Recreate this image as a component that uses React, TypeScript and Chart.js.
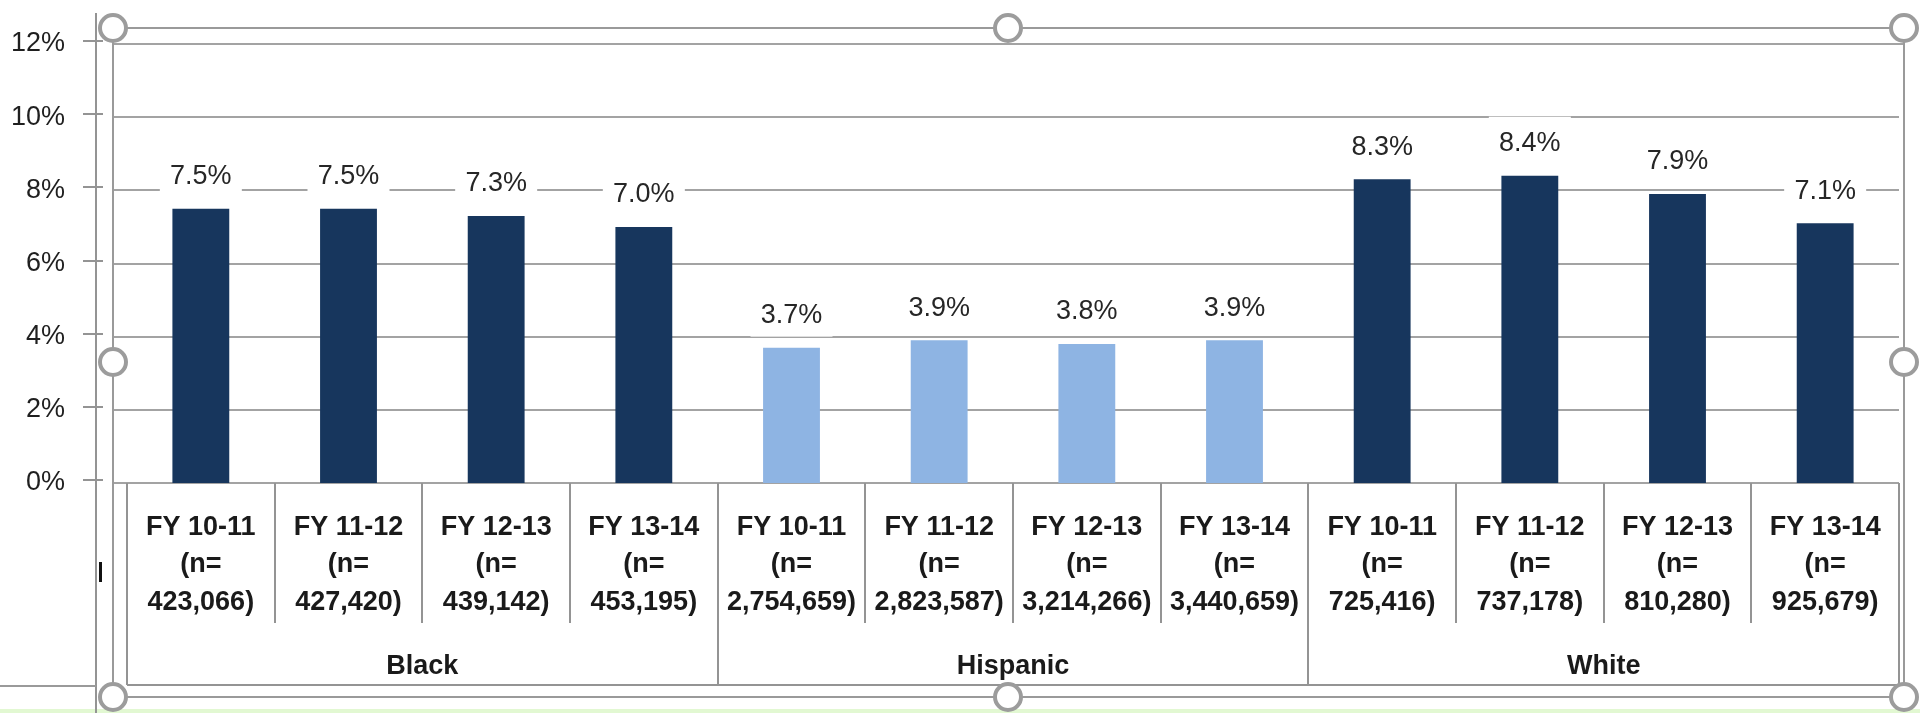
import React, { useEffect, useRef } from 'react';
import { Chart, registerables } from 'chart.js';

Chart.register(...registerables);

// ---- data ----
const fiscalYears = ['FY 10-11', 'FY 11-12', 'FY 12-13', 'FY 13-14'];
const groups = ['Black', 'Hispanic', 'White'];
const sampleSizes = [
  '423,066', '427,420', '439,142', '453,195',
  '2,754,659', '2,823,587', '3,214,266', '3,440,659',
  '725,416', '737,178', '810,280', '925,679',
];
const blackValues = [7.5, 7.5, 7.3, 7.0];
const hispanicValues = [3.7, 3.9, 3.8, 3.9];
const whiteValues = [8.3, 8.4, 7.9, 7.1];
const yMin = 0;
const yMax = 12;
const yStep = 2;

const DARK = '#17365d';
const LIGHT = '#8eb4e3';
const FONT = "'Liberation Sans', Arial, sans-serif";

const allValues = [...blackValues, ...hispanicValues, ...whiteValues];
const labels = sampleSizes.map((n, i) => `${fiscalYears[i % 4]} (n= ${n})`);
const barColors = [
  ...blackValues.map(() => DARK),
  ...hispanicValues.map(() => LIGHT),
  ...whiteValues.map(() => DARK),
];

const decorPlugin = {
  id: 'decor',
  beforeDraw(chart: any) {
    const { ctx, width, height } = chart;
    ctx.save();
    ctx.fillStyle = '#ffffff';
    ctx.fillRect(0, 0, width, height);
    // light green strip at the bottom
    ctx.fillStyle = '#e2f8d2';
    ctx.fillRect(0, 709, width, height - 709);
    ctx.restore();
  },
  beforeDatasetsDraw(chart: any) {
    const { ctx, chartArea } = chart;
    const y = chart.scales.y;
    const x = chart.scales.x;
    const frameL = 113;
    const frameR = 1904;
    ctx.save();
    // gridlines
    ctx.strokeStyle = '#a3a3a3';
    ctx.lineWidth = 2;
    for (let v = yMin; v <= yMax; v += yStep) {
      const py = Math.round(y.getPixelForValue(v));
      ctx.beginPath();
      ctx.moveTo(frameL, py);
      ctx.lineTo(v === yMax ? frameR : chartArea.right, py);
      ctx.stroke();
    }
    // value axis line + tick marks
    ctx.strokeStyle = '#949494';
    ctx.beginPath();
    ctx.moveTo(96, 13);
    ctx.lineTo(96, 713);
    ctx.stroke();
    for (let v = yMin; v <= yMax; v += yStep) {
      const py = Math.round(y.getPixelForValue(v)) - 3;
      ctx.beginPath();
      ctx.moveTo(83, py);
      ctx.lineTo(103, py);
      ctx.stroke();
    }
    // selection frame
    ctx.strokeStyle = '#9a9a9a';
    ctx.beginPath();
    ctx.moveTo(frameL, 28);
    ctx.lineTo(frameR, 28);
    ctx.moveTo(frameL, 28);
    ctx.lineTo(frameL, 697);
    ctx.moveTo(frameR, 28);
    ctx.lineTo(frameR, 697);
    ctx.moveTo(frameL, 697);
    ctx.lineTo(frameR, 697);
    ctx.moveTo(0, 686);
    ctx.lineTo(96, 686);
    ctx.stroke();

    // category label box
    const n = allValues.length;
    const edges: number[] = [chartArea.left];
    for (let i = 0; i < n - 1; i++) {
      edges.push((x.getPixelForValue(i) + x.getPixelForValue(i + 1)) / 2);
    }
    edges.push(chartArea.right);
    ctx.strokeStyle = '#949494';
    ctx.beginPath();
    ctx.moveTo(chartArea.left, 685);
    ctx.lineTo(chartArea.right, 685);
    edges.forEach((ex, i) => {
      const px = Math.round(ex);
      ctx.moveTo(px, chartArea.bottom);
      ctx.lineTo(px, i % 4 === 0 ? 685 : 623);
    });
    ctx.stroke();

    // category labels
    ctx.fillStyle = '#1a1a1a';
    ctx.font = `bold 27px ${FONT}`;
    ctx.textAlign = 'center';
    ctx.textBaseline = 'middle';
    for (let i = 0; i < n; i++) {
      const px = x.getPixelForValue(i);
      ctx.fillText(fiscalYears[i % 4], px, 528);
      ctx.fillText('(n=', px, 565);
      ctx.fillText(`${sampleSizes[i]})`, px, 603);
    }
    groups.forEach((g, gi) => {
      const cx = (edges[gi * 4] + edges[gi * 4 + 4]) / 2;
      ctx.fillText(g, cx, 667);
    });

    // small cursor mark near the axis
    ctx.fillStyle = '#111111';
    ctx.fillRect(99, 562, 3, 20);
    ctx.restore();
  },
  afterDatasetsDraw(chart: any) {
    const { ctx } = chart;
    const y = chart.scales.y;
    const x = chart.scales.x;
    ctx.save();
    ctx.font = `27px ${FONT}`;
    ctx.textAlign = 'center';
    ctx.textBaseline = 'middle';
    allValues.forEach((v, i) => {
      const px = x.getPixelForValue(i);
      const cy = y.getPixelForValue(v) - 32;
      ctx.fillStyle = '#ffffff';
      ctx.fillRect(px - 41, cy - 27, 82, 48);
      ctx.fillStyle = '#262626';
      ctx.fillText(`${v.toFixed(1)}%`, px, cy);
    });
    // selection handles
    const hx = [113, 1008, 1904];
    const hy = [28, 362, 697];
    ctx.lineWidth = 4;
    ctx.strokeStyle = '#9c9c9c';
    ctx.fillStyle = '#ffffff';
    hx.forEach((cx, xi) => {
      hy.forEach((cy, yi) => {
        if (xi === 1 && yi === 1) return;
        ctx.beginPath();
        ctx.arc(cx, cy, 13, 0, Math.PI * 2);
        ctx.fill();
        ctx.stroke();
      });
    });
    ctx.restore();
  },
};

export default function App() {
  const ref = useRef<HTMLCanvasElement>(null);
  useEffect(() => {
    if (!ref.current) return;
    const chart = new Chart(ref.current, {
      type: 'bar',
      data: {
        labels,
        datasets: [
          {
            data: allValues,
            backgroundColor: barColors,
            borderWidth: 0,
            categoryPercentage: 1,
            barPercentage: 0.385,
          },
        ],
      },
      options: {
        responsive: false,
        animation: false,
        devicePixelRatio: 1,
        layout: { padding: { left: 0, top: 44, right: 21, bottom: 230 } },
        plugins: { legend: { display: false }, tooltip: { enabled: false } },
        scales: {
          x: { display: false },
          y: {
            min: yMin,
            max: yMax,
            grid: { display: false, drawTicks: true, tickLength: 62 },
            border: { display: false },
            ticks: {
              stepSize: yStep,
              padding: 0,
              color: '#1f1f1f',
              font: { family: FONT, size: 27 },
              callback: (v: any) => `${v}%`,
            },
            afterFit: (s: any) => {
              s.width = 127;
            },
          },
        },
      },
      plugins: [decorPlugin],
    });
    return () => chart.destroy();
  }, []);
  return (
    <div style={{ position: 'absolute', left: 0, top: 0, width: 1920, height: 713, background: '#fff' }}>
      <canvas ref={ref} width={1920} height={713} style={{ display: 'block' }} />
    </div>
  );
}
